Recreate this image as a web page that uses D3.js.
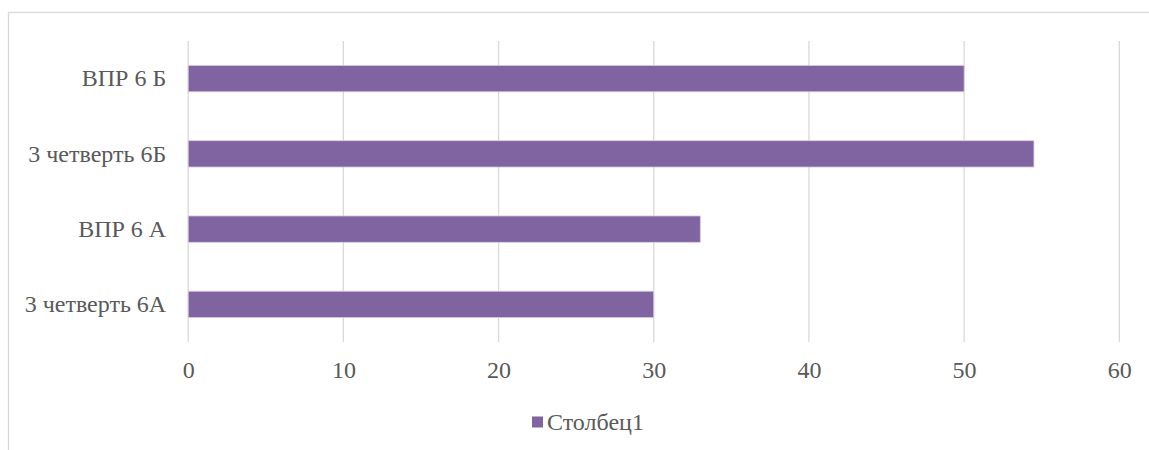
<!DOCTYPE html>
<html><head><meta charset="utf-8">
<script src="https://cdn.jsdelivr.net/npm/d3@7"></script>
<style>body{margin:0;background:#fff;}</style>
</head><body>
<svg id="c" width="1149" height="450"></svg>
<script>
const categories = ["ВПР 6 Б", "3 четверть 6Б", "ВПР 6 А", "3 четверть 6А"];
const values = [50, 54.5, 33, 30];
const xTicks = [0, 10, 20, 30, 40, 50, 60];
const seriesName = "Столбец1";

(function () {
const svg = d3.select("#c");
const color = "#8064A2";
const textColor = "#595959";
const FONT = '"Liberation Serif", "Times New Roman", serif';

svg.append("rect").attr("x", 8.5).attr("y", 12.5).attr("width", 1160).attr("height", 460)
  .attr("fill", "none").attr("stroke", "#d9d9d9").attr("stroke-width", 1.3);

const pLeft = 188.2, pRight = 1119.3, pTop = 41, pBottom = 342;
const x = d3.scaleLinear().domain([0, 60]).range([pLeft, pRight]);
const y = d3.scaleBand().domain(categories).range([pTop, pBottom]).paddingInner(0.65).paddingOuter(0.325);

svg.append("g").selectAll("line").data(xTicks).join("line")
  .attr("x1", d => x(d)).attr("x2", d => x(d))
  .attr("y1", pTop).attr("y2", pBottom)
  .attr("stroke", "#d9d9d9").attr("stroke-width", 1.3);

svg.append("g").selectAll("rect").data(values).join("rect")
  .attr("x", x(0)).attr("y", (d, i) => y(categories[i]))
  .attr("width", d => x(d) - x(0)).attr("height", y.bandwidth())
  .attr("fill", color).attr("stroke", "#d8cce6").attr("stroke-width", 0.8);

const xAxis = d3.axisBottom(x).tickValues(xTicks).tickSize(0).tickPadding(0);
const gx = svg.append("g").attr("transform", `translate(0,${pBottom})`).call(xAxis);
gx.select(".domain").remove();
gx.selectAll("text").attr("fill", textColor)
  .attr("y", 28).attr("dy", "0.35em")
  .style("font-family", FONT).style("font-size", "24px");

const yAxis = d3.axisLeft(y).tickSize(0).tickPadding(22);
const gy = svg.append("g").attr("transform", `translate(${pLeft},0)`).call(yAxis);
gy.select(".domain").remove();
gy.selectAll("text").attr("fill", textColor)
  .style("font-family", FONT).style("font-size", "24px");

const leg = svg.append("g");
leg.append("rect").attr("x", 532).attr("y", 416.5).attr("width", 11).attr("height", 11).attr("fill", color);
leg.append("text").attr("x", 547).attr("y", 422).attr("dy", "0.35em")
  .attr("fill", textColor).style("font-family", FONT).style("font-size", "24px").text(seriesName);
})();
</script>
</body></html>
